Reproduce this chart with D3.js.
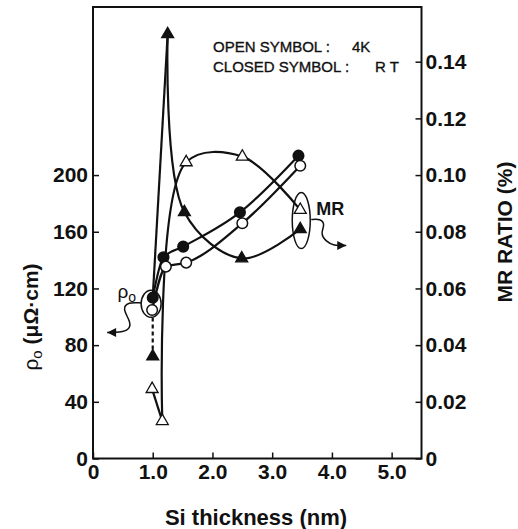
<!DOCTYPE html>
<html>
<head>
<meta charset="utf-8">
<script src="https://cdn.jsdelivr.net/npm/d3@7"></script>
<style>
  body { margin: 0; background: #fff; }
  svg { display: block; font-family: "Liberation Sans", Arial, sans-serif; }
</style>
</head>
<body>
<svg id="chart" width="518" height="529"></svg>
<script>
// values
var xRhoRT = [1.0, 1.18, 1.51, 2.46, 3.44];
var rhoRT  = [113.5, 142, 149.5, 173.7, 213.7];   // closed circles, uOhm.cm
var xRho4K = [0.99, 1.22, 1.56, 2.50, 3.47];
var rho4K  = [104.8, 135.4, 138.2, 166, 206.6];   // open circles
var xMrRT  = [1.0, 1.25, 1.53, 2.49, 3.47];
var mrRT   = [0.036, 0.1497, 0.0869, 0.0706, 0.0809]; // closed triangles, %
var xMr4K  = [0.99, 1.16, 1.56, 2.50, 3.47];
var mr4K   = [0.0245, 0.0132, 0.1045, 0.1065, 0.0877]; // open triangles

var xTicks = [0, 1, 2, 3, 4, 5];
var xTickLabels = ["0", "1.0", "2.0", "3.0", "4.0", "5.0"];
var rhoTicks = [0, 40, 80, 120, 160, 200];
var mrTicks = [0, 0.02, 0.04, 0.06, 0.08, 0.10, 0.12, 0.14];

var svg = d3.select("#chart");

var x = d3.scaleLinear().domain([0, 5.5]).range([93, 421.5]);
var yL = d3.scaleLinear().domain([0, 318.6]).range([458.5, 7]);
var yR = d3.scaleLinear().domain([0, 0.1593]).range([458.5, 7]);

function zip(xs, ys) { return xs.map(function(d, i) { return [d, ys[i]]; }); }

// axes
var gl = svg.append("g").attr("transform", "translate(" + x(0) + ",0)")
  .call(d3.axisLeft(yL).tickValues(rhoTicks).tickSize(-6).tickPadding(5));
var gr = svg.append("g").attr("transform", "translate(" + x(5.5) + ",0)")
  .call(d3.axisRight(yR).tickValues(mrTicks).tickSize(-6).tickPadding(4)
    .tickFormat(function(d) { return d === 0 ? "0" : d3.format(".2f")(d); }));
var gb = svg.append("g").attr("transform", "translate(0," + yL(0) + ")")
  .call(d3.axisBottom(x).tickValues(xTicks).tickSize(-6).tickPadding(6)
    .tickFormat(function(d, i) { return xTickLabels[i]; }));

[gl, gr, gb].forEach(function(g) {
  g.select(".domain").remove();
  g.selectAll(".tick line").attr("stroke", "#111").attr("stroke-width", 1.5);
  g.selectAll(".tick text").attr("fill", "#111")
    .style("font-size", "21px").style("font-weight", "bold");
});

svg.append("rect")
  .attr("x", x(0)).attr("y", yL.range()[1])
  .attr("width", x(5.5) - x(0)).attr("height", yL(0) - yL.range()[1])
  .attr("fill", "none").attr("stroke", "#111").attr("stroke-width", 2);

// curves
var lineL = d3.line().x(function(d) { return x(d[0]); }).y(function(d) { return yL(d[1]); });
var lineR = d3.line().x(function(d) { return x(d[0]); }).y(function(d) { return yR(d[1]); });
var smooth = d3.curveCatmullRom.alpha(0.5);

function drawPath(d, dash) {
  svg.append("path").attr("d", d).attr("fill", "none")
    .attr("stroke", "#111").attr("stroke-width", 2.2)
    .attr("stroke-dasharray", dash || null);
}

drawPath(lineL.curve(d3.curveMonotoneX)(zip(xRhoRT, rhoRT)));
drawPath(lineL.curve(d3.curveMonotoneX)(zip(xRho4K, rho4K)));

// MR RT: dashed up to the circles, then the solid spike
drawPath(lineR.curve(d3.curveLinear)([[xMrRT[0], mrRT[0]], [xMrRT[0], yR.invert(yL(rho4K[0]))]]), "4,3");
var pRT = zip(xMrRT, mrRT);
drawPath(lineR.curve(d3.curveLinear)([[xRhoRT[0], yR.invert(yL(rhoRT[0]))], pRT[1]]));
drawPath(lineR.curve(smooth)(pRT.slice(1)));

// MR 4K
var p4k = zip(xMr4K, mr4K);
drawPath(lineR.curve(d3.curveLinear)(p4k.slice(0, 2)));
drawPath(lineR.curve(smooth)(p4k.slice(1)));

// annotation loops and arrows
function loop(cx, cy, rx, ry) {
  svg.append("ellipse").attr("cx", cx).attr("cy", cy).attr("rx", rx).attr("ry", ry)
    .attr("fill", "none").attr("stroke", "#111").attr("stroke-width", 1.5);
}
function wavy(ax, ay, offs, dir) {
  var pts = offs.map(function(o) { return [ax + o[0], ay + o[1]]; });
  svg.append("path").attr("d", d3.line().curve(d3.curveBasis)(pts))
    .attr("fill", "none").attr("stroke", "#111").attr("stroke-width", 1.5);
  var t = pts[pts.length - 1];
  svg.append("path")
    .attr("d", "M" + t[0] + "," + t[1] + "l" + (-9 * dir) + ",-4.5l0,9z")
    .attr("fill", "#111");
}

var ax1 = x(xRho4K[0]), ay1 = yL(rho4K[0]);
loop(ax1 - 1, (yL(rhoRT[0]) + ay1) / 2, 10, 13.5);
wavy(ax1, ay1, [[-11, -7], [-24, -8], [-30, -1], [-21, 12], [-23, 20], [-32, 22.5], [-45, 22.5]], -1);
svg.append("text").attr("x", ax1 - 16).attr("y", ay1 - 12).attr("text-anchor", "end")
  .style("font-size", "19px").attr("fill", "#111")
  .text("ρ").append("tspan").attr("dy", 4).style("font-size", "14px").text("o");

var ax2 = x(xMr4K[4]), ay2 = (yR(mr4K[4]) + yR(mrRT[4])) / 2;
loop(ax2 + 1, ay2 + 1, 9, 28);
wavy(ax2, ay2, [[11, 0], [20, -1], [25, 5], [20, 14], [26, 22], [33, 26], [46, 26]], 1);
svg.append("text").attr("x", ax2 + 16).attr("y", ay2 - 5)
  .style("font-size", "18px").style("font-weight", "bold").attr("fill", "#111").text("MR");

// markers
function circles(xs, ys, fill) {
  svg.selectAll(null).data(zip(xs, ys)).enter().append("circle")
    .attr("cx", function(d) { return x(d[0]); }).attr("cy", function(d) { return yL(d[1]); })
    .attr("r", 5.3).attr("fill", fill).attr("stroke", "#111").attr("stroke-width", 1.5);
}
function triangles(xs, ys, fill) {
  svg.selectAll(null).data(zip(xs, ys)).enter().append("path")
    .attr("d", d3.symbol().type(d3.symbolTriangle).size(62))
    .attr("transform", function(d) { return "translate(" + x(d[0]) + "," + yR(d[1]) + ")"; })
    .attr("fill", fill).attr("stroke", "#111").attr("stroke-width", 1.3);
}
circles(xRhoRT, rhoRT, "#111");
circles(xRho4K, rho4K, "#fff");
triangles(xMrRT, mrRT, "#111");
triangles(xMr4K, mr4K, "#fff");

// legend text
var leg = svg.append("g").style("font-size", "15px").attr("fill", "#111")
  .attr("stroke", "#111").attr("stroke-width", 0.35);
leg.append("text").attr("x", 213).attr("y", 52).text("OPEN SYMBOL :");
leg.append("text").attr("x", 352).attr("y", 52).text("4K");
leg.append("text").attr("x", 213).attr("y", 72).text("CLOSED SYMBOL :");
leg.append("text").attr("x", 375).attr("y", 72).text("R T");

// axis titles
svg.append("text").attr("x", 256).attr("y", 525).attr("text-anchor", "middle")
  .style("font-size", "22px").style("font-weight", "bold").attr("fill", "#111")
  .text("Si thickness (nm)");

svg.append("text").attr("transform", "translate(512,232) rotate(-90)")
  .attr("text-anchor", "middle")
  .style("font-size", "21px").style("font-weight", "bold").attr("fill", "#111")
  .text("MR RATIO (%)");

var yt = svg.append("text").attr("transform", "translate(38,317) rotate(-90)")
  .attr("text-anchor", "middle").style("font-size", "21px").attr("fill", "#111");
yt.append("tspan").text("ρ");
yt.append("tspan").attr("dy", 4).style("font-size", "15px").text("o");
yt.append("tspan").attr("dy", -4).style("font-weight", "bold").text(" (μΩ·cm)");
</script>
</body>
</html>
